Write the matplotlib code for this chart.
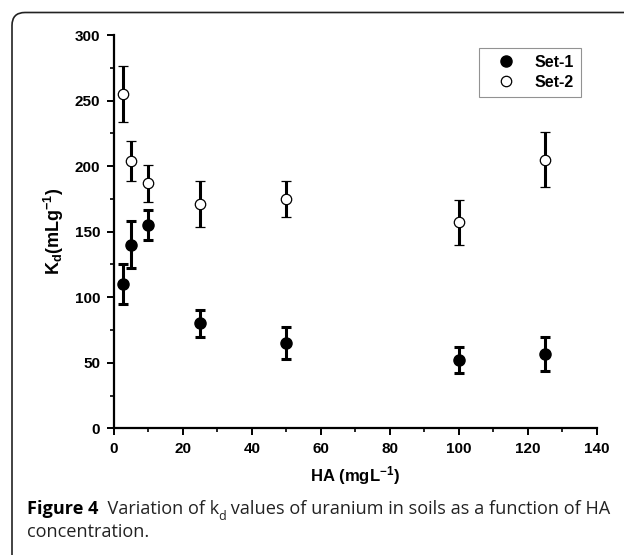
import matplotlib
matplotlib.use("Agg")
import matplotlib.pyplot as plt
from matplotlib.patches import FancyBboxPatch
from matplotlib.transforms import IdentityTransform
from matplotlib.ticker import MultipleLocator

# HA concentration (mg/L)
ha = [2.5, 5, 10, 25, 50, 100, 125]

# Set-1 (filled markers)
set1_kd = [110, 140, 155, 80, 65, 52, 57]
set1_err = [15, 18, 11.5, 10, 12, 10, 13]

# Set-2 (open markers)
set2_kd = [255, 204, 187, 171, 175, 157, 205]
set2_err = [21, 15, 14, 17.5, 14, 17, 21]

plt.rcParams['font.family'] = ['Liberation Sans', 'DejaVu Sans']
plt.rcParams['mathtext.fontset'] = 'custom'
plt.rcParams['mathtext.rm'] = 'Liberation Sans:bold'
plt.rcParams['mathtext.it'] = 'Liberation Sans:bold'
plt.rcParams['mathtext.bf'] = 'Liberation Sans:bold'
plt.rcParams['mathtext.default'] = 'rm'

fig = plt.figure(figsize=(6.24, 5.55), dpi=100)
ax = fig.add_axes([0.1827, 0.2283, 0.7735, 0.7086])

ax.errorbar(ha, set1_kd, yerr=set1_err, fmt='o', color='black', ms=8,
            mfc='black', mec='black', elinewidth=2.2, capsize=3.7, capthick=2.2,
            label='Set-1', zorder=3)
ax.errorbar(ha, set2_kd, yerr=set2_err, fmt='o', color='black', ms=7.5,
            mfc='white', mec='black', mew=0.9, elinewidth=2.2, capsize=3.7,
            capthick=2.2, label='Set-2', zorder=3)

ax.set_xlim(0, 140)
ax.set_ylim(0, 300)
ax.xaxis.set_major_locator(MultipleLocator(20))
ax.xaxis.set_minor_locator(MultipleLocator(10))
ax.yaxis.set_major_locator(MultipleLocator(50))
ax.yaxis.set_minor_locator(MultipleLocator(25))
for s in ['top', 'right']:
    ax.spines[s].set_visible(False)
for s in ['left', 'bottom']:
    ax.spines[s].set_linewidth(1.6)
ax.tick_params(which='major', direction='out', length=5, width=1.4,
               labelsize=11, pad=5)
ax.tick_params(which='minor', direction='out', length=3, width=1.2)
for lab in ax.get_xticklabels() + ax.get_yticklabels():
    lab.set_fontweight('bold')

ax.set_xlabel(r'HA (mgL$^{-1}$)', fontsize=12, fontweight='bold', labelpad=6)
ax.set_ylabel(r'K$_{d}$(mLg$^{-1}$)', fontsize=13, fontweight='bold', labelpad=6)

handles, labels = ax.get_legend_handles_labels()
handles = [h[0] for h in handles]
leg = ax.legend(handles, labels, loc='upper right', bbox_to_anchor=(0.9675, 0.9677),
                borderaxespad=0, fancybox=False, edgecolor='#777777',
                prop={'weight': 'bold', 'size': 11.5}, handletextpad=0.6,
                handlelength=2.4, borderpad=0.45, labelspacing=0.3)
leg.get_frame().set_linewidth(0.8)

# rounded frame around the figure panel
frame = FancyBboxPatch((12, -100), 800, 555 - 12.5 + 100,
                       boxstyle='round,pad=0,rounding_size=13',
                       transform=IdentityTransform(), fill=False,
                       edgecolor='#222222', linewidth=1.2, clip_on=False)
fig.add_artist(frame)

# caption
cap_font = ['Open Sans', 'DejaVu Sans']
cap_size = 13.1
t1 = fig.text(27 / 624, 1 - 514 / 555, 'Figure 4', fontsize=cap_size,
              fontweight='bold', family=cap_font, va='baseline')
t2 = ax.annotate('  Variation of k', xy=(1, 0), xycoords=t1, fontsize=cap_size,
                 family=cap_font, va='bottom', ha='left', color='#222222')
t3 = ax.annotate('d', xy=(1, 0), xycoords=t2, xytext=(-0.8, -3.5),
                 textcoords='offset points', fontsize=9, family=cap_font,
                 va='bottom', ha='left', color='#222222')
ax.annotate(' values of uranium in soils as a function of HA', xy=(1, 0),
            xycoords=t3, xytext=(0, 3.5), textcoords='offset points',
            fontsize=cap_size, family=cap_font, va='bottom', ha='left', color='#222222')
fig.text(27 / 624, 1 - 537 / 555, 'concentration.', fontsize=cap_size,
         family=cap_font, va='baseline', color='#222222')

fig.savefig('out.png', dpi=100)
